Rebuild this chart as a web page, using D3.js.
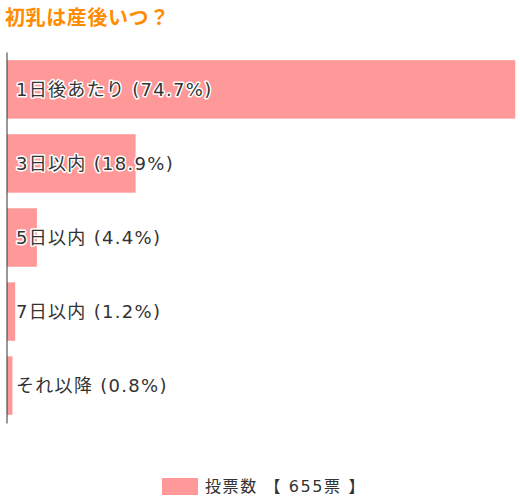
<!DOCTYPE html>
<html>
<head>
<meta charset="utf-8">
<script src="https://cdn.jsdelivr.net/npm/d3@7"></script>
<style>
  body { margin: 0; background: #fff; }
  text { font-family: "DejaVu Sans", "Noto Sans CJK JP", sans-serif; }
  text.title { font-family: "Noto Sans CJK JP", sans-serif; }
</style>
</head>
<body>
<div id="chart"></div>
<script>
const categories = ['1日後あたり', '3日以内', '5日以内', '7日以内', 'それ以降'];
const percents   = [74.7, 18.9, 4.4, 1.2, 0.8];
const totalVotes = 655;
const title      = '初乳は産後いつ？';
const legendText = '投票数 【 ' + totalVotes + '票 】';

const width  = 520;
const height = 500;
const margin = { top: 52, left: 6, bottom: 77 };
const barColor = '#ff9999';

const svg = d3.select( '#chart' )
              .append( 'svg' )
              .attr( 'width', width )
              .attr( 'height', height );

svg.append( 'text' )
   .attr( 'class', 'title' )
   .attr( 'x', 5 )
   .attr( 'y', 25 )
   .attr( 'font-size', '20px' )
   .attr( 'letter-spacing', '0.6px' )
   .attr( 'font-weight', 'bold' )
   .attr( 'fill', '#ff8c00' )
   .text( title );

const y = d3.scaleBand()
            .domain( categories )
            .range( [margin.top, height - margin.bottom] )
            .paddingInner( 0.21 )
            .paddingOuter( 0.11 );

const x = d3.scaleLinear()
            .domain( [0, 75.4] )
            .range( [margin.left + 1, margin.left + 1 + 513] );

const data = categories.map( ( c, i ) => ( { name : c, pct : percents[i] } ) );

svg.selectAll( 'rect.bar' )
   .data( data )
   .enter()
   .append( 'rect' )
   .attr( 'class', 'bar' )
   .attr( 'x', x( 0 ) )
   .attr( 'y', d => y( d.name ) )
   .attr( 'width', d => x( d.pct ) - x( 0 ) )
   .attr( 'height', y.bandwidth() )
   .attr( 'fill', barColor );

svg.selectAll( 'text.label' )
   .data( data )
   .enter()
   .append( 'text' )
   .attr( 'class', 'label' )
   .attr( 'x', 16 )
   .attr( 'y', d => y( d.name ) + y.bandwidth() / 2 )
   .attr( 'dy', '0.36em' )
   .attr( 'font-size', '18px' )
   .attr( 'letter-spacing', '1.3px' )
   .attr( 'fill', '#333' )
   .attr( 'stroke', '#fff' )
   .attr( 'stroke-width', 3 )
   .attr( 'stroke-linejoin', 'round' )
   .attr( 'paint-order', 'stroke' )
   .text( d => `${d.name} (${d.pct}%)` );

// axis line on the left
svg.append( 'g' )
   .attr( 'transform', `translate(${margin.left + 0.5},0)` )
   .call( d3.axisLeft( y ).tickSize( 0 ).tickFormat( '' ) )
   .call( g => g.select( '.domain' ).attr( 'stroke', '#333' ) );

// legend
const legend = svg.append( 'g' );
legend.append( 'rect' )
      .attr( 'x', 162 )
      .attr( 'y', 478 )
      .attr( 'width', 36 )
      .attr( 'height', 17 )
      .attr( 'fill', barColor );
legend.append( 'text' )
      .attr( 'x', 205 )
      .attr( 'y', 486.5 )
      .attr( 'dy', '0.36em' )
      .attr( 'font-size', '16px' )
      .attr( 'letter-spacing', '1.6px' )
      .attr( 'fill', '#333' )
      .text( legendText );
</script>
</body>
</html>
